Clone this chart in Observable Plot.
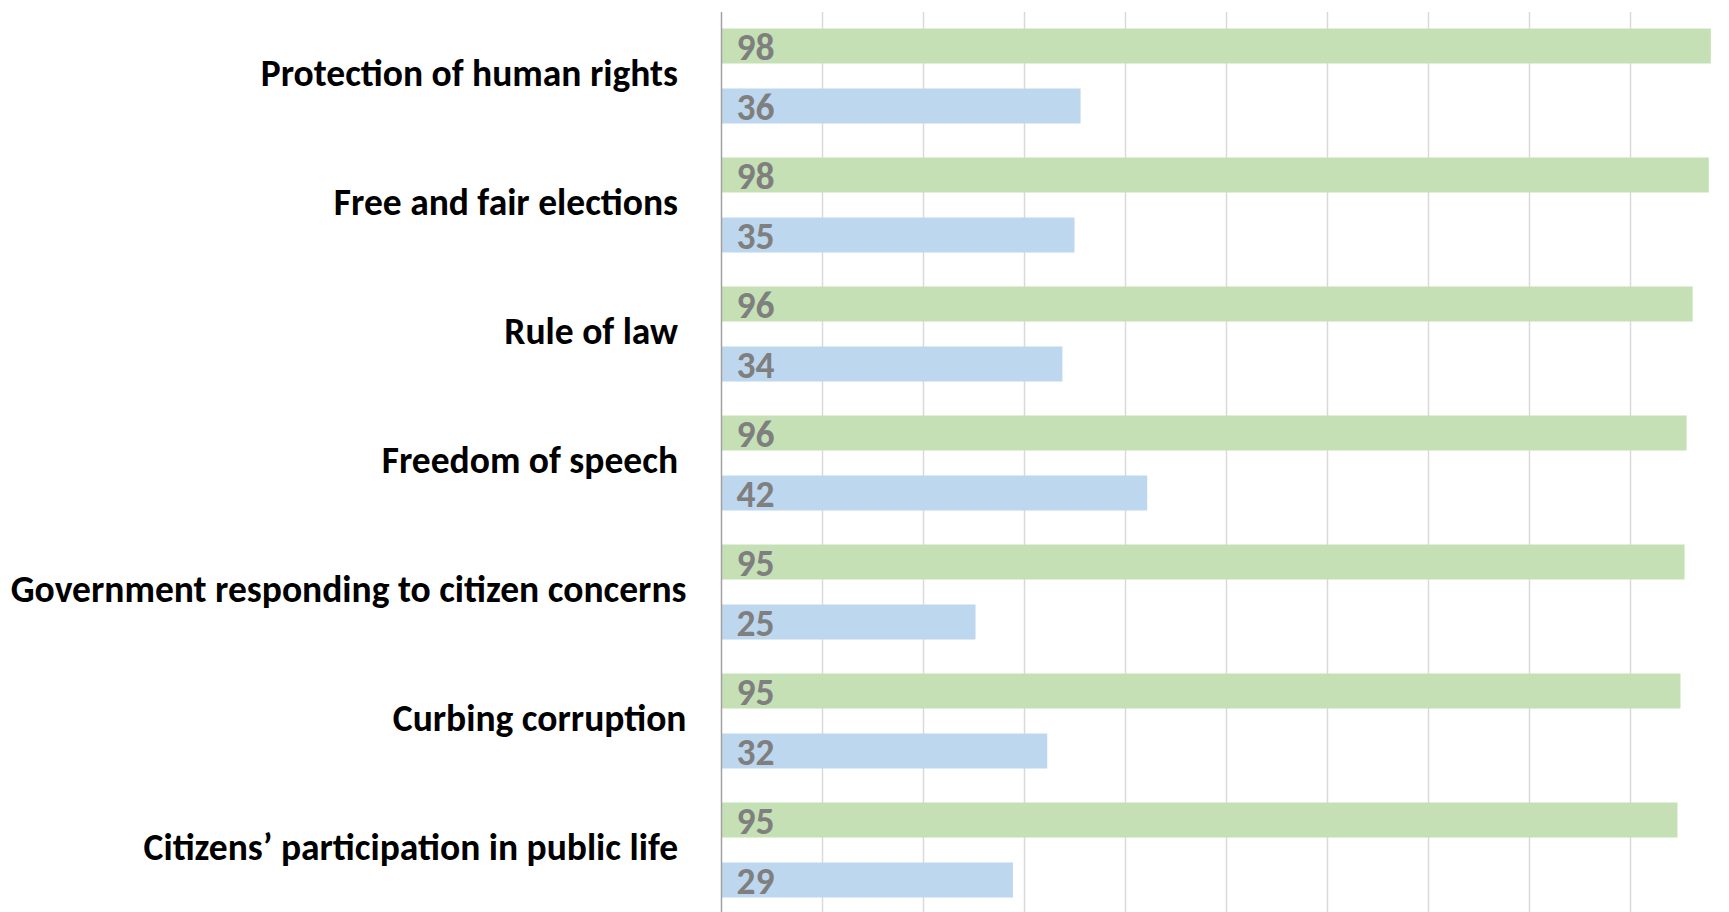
<!DOCTYPE html>
<html>
<head>
<meta charset="utf-8">
<script src="https://cdn.jsdelivr.net/npm/d3@7"></script>
<script src="https://cdn.jsdelivr.net/npm/@observablehq/plot@0.6"></script>
<style>
  html, body { margin: 0; padding: 0; background: #ffffff; }
  #chart { width: 1729px; height: 912px; overflow: hidden; }
</style>
</head>
<body>
<div id="chart"></div>
<script>
// Categories (trailing non-breaking spaces reproduce the original label alignment)
const categories = [
  "Protection of human rights\u00a0",
  "Free and fair elections\u00a0",
  "Rule of law\u00a0",
  "Freedom of speech\u00a0",
  "Government responding to citizen concerns",
  "Curbing corruption",
  "Citizens\u2019 participation in public life\u00a0"
];
const seriesNames = ["Series 1", "Series 2"];
const series1Values = [98.0, 97.8, 96.2, 95.6, 95.4, 95.0, 94.7];
const series2Values = [35.6, 35.0, 33.8, 42.2, 25.2, 32.3, 28.9];
const gridTicks = [10, 20, 30, 40, 50, 60, 70, 80, 90, 100];

const rows = [];
categories.forEach((c, i) => {
  rows.push({category: c, series: seriesNames[0], value: series1Values[i]});
  rows.push({category: c, series: seriesNames[1], value: series2Values[i]});
});

const font = "Calibri, Carlito, Lato, 'Open Sans', sans-serif";

const chart = Plot.plot({
  width: 1729,
  height: 912,
  marginLeft: 721,
  marginRight: 0,
  marginTop: 10.5,
  marginBottom: 0,
  style: {fontFamily: font, background: "#ffffff"},
  x: {domain: [0, 100], range: [721, 1731], axis: null},
  fy: {domain: categories, range: [10.5, 915.5], padding: 0, label: null, axis: null},
  y: {domain: seriesNames, paddingInner: 0.41, paddingOuter: 0.276, axis: null},
  color: {domain: seriesNames, range: ["#C5E0B4", "#BDD7EE"]},
  marks: [
    Plot.ruleX(gridTicks, {stroke: "#D9D9D9", strokeWidth: 1.5}),
    Plot.barX(rows, {x: "value", y: "series", fy: "category", fill: "series", inset: 0}),
    Plot.ruleX([0], {stroke: "#A0A0A0", strokeWidth: 1.5}),
    Plot.text(rows, {
      x: 0, y: "series", fy: "category",
      text: d => d3.format(".0f")(d.value),
      textAnchor: "start", dx: 15, dy: 1,
      fill: "#7F7F7F", fontWeight: "bold", fontSize: 37.5
    }),
    Plot.axisFy({
      anchor: "left", label: null, tickSize: 0, tickPadding: 35, dy: -3,
      fontSize: 37.5, fontWeight: "bold", fill: "#000000"
    })
  ]
});
document.getElementById("chart").appendChild(chart);
</script>
</body>
</html>
